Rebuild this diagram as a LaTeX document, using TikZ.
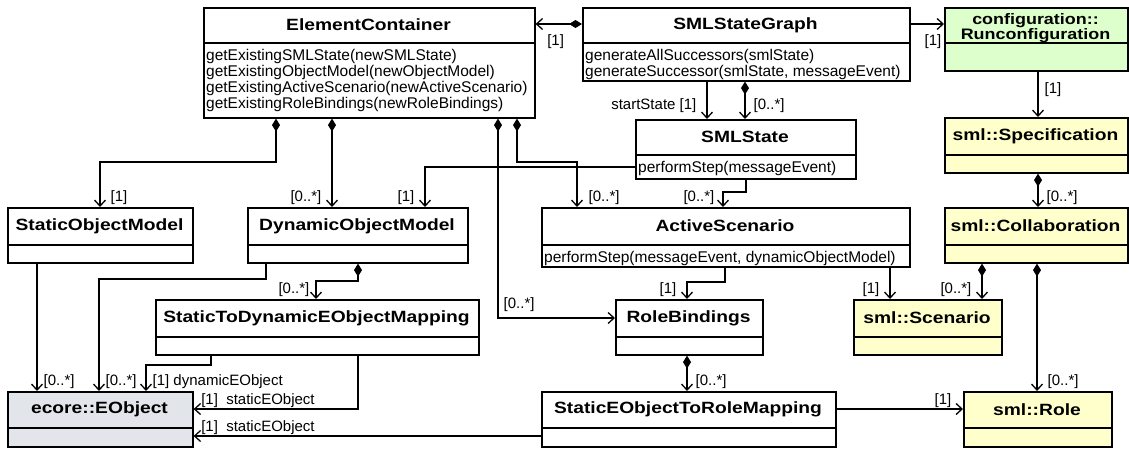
\documentclass[tikz,border=0pt]{standalone}
\usepackage{fontspec}
\setmainfont{Liberation Sans}
\newfontfamily\titlefont{Liberation Sans}[FakeStretch=1.18]
\usepackage{tikz}
\usetikzlibrary{arrows.meta}

\definecolor{smlyellow}{RGB}{255,255,204}
\definecolor{cfggreen}{RGB}{221,255,204}
\definecolor{ecoregray}{RGB}{226,230,234}

% class box: name, left, top, right, separator, bottom, fill, title, operations
\newcommand{\umlclass}[9]{%
  \node[classbox, fill=#7, minimum width={#4-#2}, minimum height={#6-#3}] (#1) at (#2,#3) {};
  \draw[boxline] (#1.west |- 0,#5) -- (#1.east |- 0,#5);
  \node[classname, #1 name/.try] (#1-name) at ({(#2+#4)/2},{(#3+#5)/2}) {#8};
  \node[classops] (#1-ops) at (#2,#5) {#9};
}

\begin{document}
\begin{tikzpicture}[x=1pt, y=-1pt,
    classbox/.style={draw, line width=1.6pt, anchor=north west, inner sep=0pt},
    boxline/.style={line width=1.6pt},
    classname/.style={font=\titlefont\bfseries\fontsize{16.3}{18}\selectfont, align=center, inner sep=0pt},
    RC name/.style={yshift=-3pt, font=\titlefont\bfseries\fontsize{15.2}{13}\selectfont},
    classops/.style={anchor=north west, align=left, inner xsep=3pt, inner ysep=6pt,
        font=\fontsize{15.5}{16.1}\selectfont},
    conn/.style={line width=1.3pt, -{Straight Barb[length=6pt,width=11pt]}},
    compo/.style={line width=1.3pt, {Diamond[length=13pt,width=8pt]}-{Straight Barb[length=6pt,width=11pt]}},
    mult/.style={font=\fontsize{15}{16}\selectfont, inner sep=0pt},
    rlab/.style={mult, anchor=base west, xshift=8pt, yshift=6pt},
    llab/.style={mult, anchor=base east, xshift=-10pt, yshift=6pt}]
    \useasboundingbox (0,0) rectangle (1129,448);

    % classes
    \umlclass{EC}{203}{7}{534}{43}{117}{white}{ElementContainer}{getExistingSMLState(newSMLState)\\getExistingObjectModel(newObjectModel)\\getExistingActiveScenario(newActiveScenario)\\getExistingRoleBindings(newRoleBindings)}
    \umlclass{SG}{582}{7}{909}{43}{80}{white}{SMLStateGraph}{generateAllSuccessors(smlState)\\generateSuccessor(smlState, messageEvent)}
    \umlclass{RC}{944}{7}{1127}{43}{70}{cfggreen}{configuration::\\Runconfiguration}{}
    \umlclass{SS}{635}{119}{855}{155}{178}{white}{SMLState}{performStep(messageEvent)}
    \umlclass{SP}{944}{117}{1127}{155}{172}{smlyellow}{sml::Specification}{}
    \umlclass{SOM}{7}{207}{192}{245}{262}{white}{StaticObjectModel}{}
    \umlclass{DOM}{247}{207}{467}{245}{262}{white}{DynamicObjectModel}{}
    \umlclass{AS}{541}{207}{909}{245}{266}{white}{ActiveScenario}{performStep(messageEvent, dynamicObjectModel)}
    \umlclass{CO}{944}{207}{1127}{245}{262}{smlyellow}{sml::Collaboration}{}
    \umlclass{STD}{155}{299}{478}{337}{354}{white}{StaticToDynamicEObjectMapping}{}
    \umlclass{RB}{615}{299}{762}{337}{354}{white}{RoleBindings}{}
    \umlclass{SC}{853}{299}{1001}{337}{354}{smlyellow}{sml::Scenario}{}
    \umlclass{EO}{7}{391}{192}{428}{446}{ecoregray}{ecore::EObject}{}
    \umlclass{SRM}{541}{391}{835}{428}{446}{white}{StaticEObjectToRoleMapping}{}
    \umlclass{RO}{963}{391}{1111}{428}{446}{smlyellow}{sml::Role}{}

    % state graph
    \draw[compo] (SG.west |- 0,24) -- (EC.east |- 0,24)
        node[mult, anchor=base west, xshift=11pt, yshift=-21pt] (m1) {[1]};
    \draw[conn] (SG.east |- 0,24) -- (RC.west |- 0,24)
        node[mult, anchor=base east, xshift=-2pt, yshift=-21pt] (m2) {[1]};
    \draw[conn] (707,0 |- SG.south) -- (707,0 |- SS.north) node[llab, yshift=4pt] (m3) {startState [1]};
    \draw[compo] (745,0 |- SG.south) -- (745,0 |- SS.north) node[rlab, yshift=4pt] (m4) {[0..*]};

    % element container
    \draw[compo] (276,0 |- EC.south) -- (276,162) -| (100,0 |- SOM.north) node[rlab, xshift=2pt] (m5) {[1]};
    \draw[compo] (332,0 |- EC.south) -- (332,0 |- DOM.north) node[llab] (m6) {[0..*]};
    \draw[compo] (498,0 |- EC.south) |- (RB.west |- 0,318)
        node[pos=0.5, mult, anchor=base west, xshift=5pt, yshift=10pt] (m7) {[0..*]};
    \draw[compo] (517,0 |- EC.south) -- (517,162) -| (577,0 |- AS.north) node[rlab, xshift=3pt] (m8) {[0..*]};

    % state and scenarios
    \draw[conn] (SS.west |- 0,167) -| (425,0 |- DOM.north) node[llab] (m9) {[1]};
    \draw[conn] (746,0 |- SS.south) -- (746,192) -| (723,0 |- AS.north) node[llab, xshift=2pt] (m10) {[0..*]};
    \draw[conn] (725,0 |- AS.south) -- (725,282) -| (687,0 |- RB.north) node[llab] (m11) {[1]};
    \draw[conn] (890,0 |- AS.south) -- (890,0 |- SC.north) node[llab] (m12) {[1]};
    \draw[compo] (687,0 |- RB.south) -- (687,0 |- SRM.north) node[rlab] (m13) {[0..*]};
    \draw[conn] (SRM.east |- 0,409) -- (RO.west |- 0,409)
        node[mult, anchor=base east, xshift=-11pt, yshift=5pt] (m14) {[1]};

    % sml model
    \draw[conn] (1038,0 |- RC.south) -- (1038,0 |- SP.north)
        node[mult, midway, anchor=west, xshift=6pt, yshift=5pt] (m15) {[1]};
    \draw[compo] (1038,0 |- SP.south) -- (1038,0 |- CO.north) node[rlab] (m16) {[0..*]};
    \draw[compo] (982,0 |- CO.south) -- (982,0 |- SC.north) node[llab] (m17) {[0..*]};
    \draw[compo] (1037,0 |- CO.south) -- (1037,0 |- RO.north) node[rlab, xshift=2pt] (m18) {[0..*]};

    % ecore objects
    \draw[conn] (37,0 |- SOM.south) -- (37,0 |- EO.north) node[rlab, xshift=-2pt] (m19) {[0..*]};
    \draw[conn] (266,0 |- DOM.south) -- (266,279) -| (99,0 |- EO.north) node[rlab, xshift=-2pt] (m20) {[0..*]};
    \draw[compo] (358,0 |- DOM.south) -- (358,281) -| (316,0 |- STD.north) node[llab, xshift=4pt] (m21) {[0..*]};
    \draw[conn] (211,0 |- STD.south) -- (211,365) -| (146,0 |- EO.north)
        node[rlab, xshift=-2pt] (m22) {[1] dynamicEObject};
    \draw[conn] (358,0 |- STD.south) |- (EO.east |- 0,409)
        node[mult, anchor=base west, xshift=7pt, yshift=5pt] (m23) {[1]\ \ staticEObject};
    \draw[conn] (SRM.west |- 0,436) -- (EO.east |- 0,436)
        node[mult, anchor=base west, xshift=7pt, yshift=5pt] (m24) {[1]\ \ staticEObject};
\end{tikzpicture}
\end{document}
